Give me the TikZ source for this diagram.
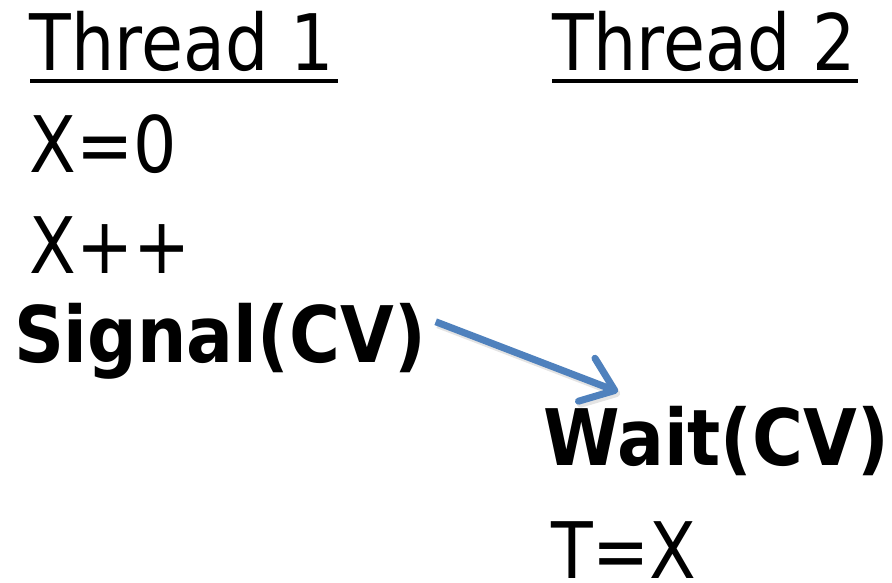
\documentclass[tikz,border=0pt]{standalone}
\usepackage{fontspec}
\usepackage{graphicx}
\setmainfont{DejaVu Sans}
\usetikzlibrary{arrows.meta}
\definecolor{flowblue}{HTML}{4F81BD}
\newcommand{\narrow}[1]{\scalebox{0.875}[1]{#1}}
\newcommand{\narrowbold}[1]{\scalebox{0.89}[1]{#1}}
\tikzset{
  codeline/.style={anchor=base west, inner sep=0pt, outer sep=0pt,
    font=\fontsize{78}{90}\selectfont},
  callline/.style={codeline, font=\fontsize{78}{90}\selectfont\bfseries},
  underbar/.style={line width=4.5pt},
  flow/.style={draw=flowblue, line width=7pt,
    -{Straight Barb[length=30pt,width=46pt,round]}},
  flowshadow/.style={draw=black!35, opacity=0.3, line width=7pt,
    -{Straight Barb[length=30pt,width=46pt,round]}}
}
\begin{document}
\begin{tikzpicture}[x=1pt,y=-1pt]
  \useasboundingbox (0,0) rectangle (892,582);

  % column headings
  \node[codeline] (t1) at (30,70) {\narrow{Thread 1}};
  \node[codeline] (t2) at (552,70) {\narrow{Thread 2}};
  \draw[underbar] ([yshift=-11pt]t1.base west) -- ([yshift=-11pt,xshift=4pt]t1.base east);
  \draw[underbar] ([yshift=-11pt]t2.base west) -- ([yshift=-11pt,xshift=2pt]t2.base east);

  % thread 1
  \node[codeline] (x0) at (30,172) {\narrow{X=0}};
  \node[codeline] (xinc) at (30,273) {\narrow{X++}};
  \node[callline] (signal) at (14,362) {\narrowbold{Signal(CV)}};

  % thread 2
  \node[callline] (wait) at (543,465) {\narrowbold{Wait(CV)}};
  \node[codeline] (tx) at (551,578) {\narrow{T=X}};

  % signal handed over to the waiting thread
  \coordinate (sigout) at ([shift={(10,19)}]signal.north east);
  \coordinate (waitin) at ([shift={(75,-14)}]wait.north west);
  \draw[flowshadow] ([shift={(2,3)}]sigout) -- ([shift={(2,3)}]waitin);
  \draw[flow] (sigout) -- (waitin);
\end{tikzpicture}
\end{document}
